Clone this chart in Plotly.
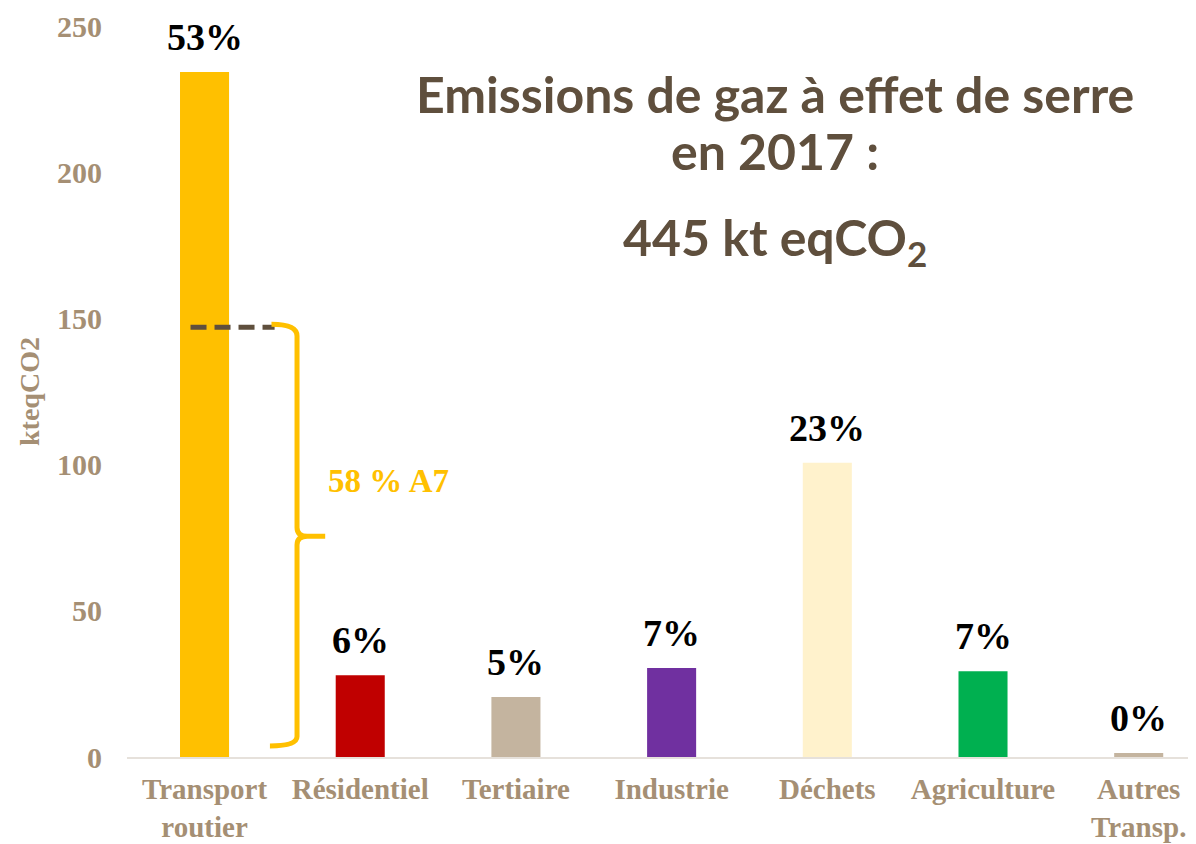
import plotly.graph_objects as go

categories = ["Transport<br>routier", "Résidentiel", "Tertiaire", "Industrie",
              "Déchets", "Agriculture", "Autres<br>Transp."]
values = [234.3, 28.0, 20.5, 30.4, 100.6, 29.3, 1.4]
shares = ["53%", "6%", "5%", "7%", "23%", "7%", "0%"]
colors = ["#FFC000", "#C00000", "#C4B49F", "#7030A0", "#FFF2CC", "#00B050", "#C4B49F"]
y_ticks = [0, 50, 100, 150, 200, 250]

a7_level = 147
a7_label = "58 % A7"
title_lines = ["Emissions de gaz à effet de serre", "en 2017 :", "445 kt eqCO<sub>2</sub>"]

tan = "#A58F74"
brown = "#5F4F3D"
serif = "Liberation Serif"
sans = "Lato"

x = list(range(len(categories)))

fig = go.Figure(go.Bar(
    x=x, y=values, width=0.315,
    marker=dict(color=colors, line=dict(width=0)),
    hoverinfo="skip",
))

for i, (v, s) in enumerate(zip(values, shares)):
    fig.add_annotation(x=i, y=v, text=f"<b>{s}</b>", showarrow=False,
                       yanchor="bottom", yshift=12,
                       font=dict(family=serif, size=38, color="black"))

# dashed marker on the transport bar + brace
fig.add_shape(type="line", x0=-0.09, x1=0.45, y0=a7_level, y1=a7_level,
              line=dict(color=brown, width=5, dash="16px,8px"))
mid = a7_level / 2 + 2
fig.add_shape(type="path",
              path=(f"M 0.43,{a7_level + 1} Q 0.594,{a7_level + 1} 0.594,{a7_level - 3} "
                    f"L 0.594,{mid + 3} Q 0.594,{mid} 0.66,{mid} L 0.775,{mid} "
                    f"M 0.66,{mid} Q 0.594,{mid} 0.594,{mid - 3} "
                    f"L 0.594,7 Q 0.594,3.8 0.42,3.8"),
              line=dict(color="#FFC000", width=5))
fig.add_annotation(x=0.78, y=94.5, text=f"<b>{a7_label}</b>", showarrow=False,
                   xanchor="left", font=dict(family=serif, size=33, color="#FFC000"))

# title block
for line, ypos in zip(title_lines, [0.907, 0.829, 0.706]):
    fig.add_annotation(xref="paper", yref="paper", x=0.606, y=ypos, yanchor="middle",
                       text=f"<b>{line}</b>", showarrow=False,
                       font=dict(family=sans, size=50, color=brown))

fig.update_layout(
    width=1188, height=836,
    margin=dict(l=119, r=0, t=18, b=87),
    paper_bgcolor="white", plot_bgcolor="white",
    showlegend=False,
    xaxis=dict(range=[-0.498, 6.368], tickvals=x, ticktext=categories,
               showline=True, linecolor="#E6E1DB", linewidth=2,
               showgrid=False, zeroline=False, ticks="",
               tickfont=dict(family=serif, size=29, color=tan, weight="bold"),
               ticklabelstandoff=5),
    yaxis=dict(range=[0, 250], tickvals=y_ticks,
               showgrid=False, zeroline=False, showline=False, ticks="",
               tickfont=dict(family=serif, size=30, color=tan, weight="bold"),
               ticklabelstandoff=24,
               title=dict(text="kteqCO2", standoff=9,
                          font=dict(family=serif, size=28, color=tan, weight="bold"))),
)

fig.write_html("out.html")
